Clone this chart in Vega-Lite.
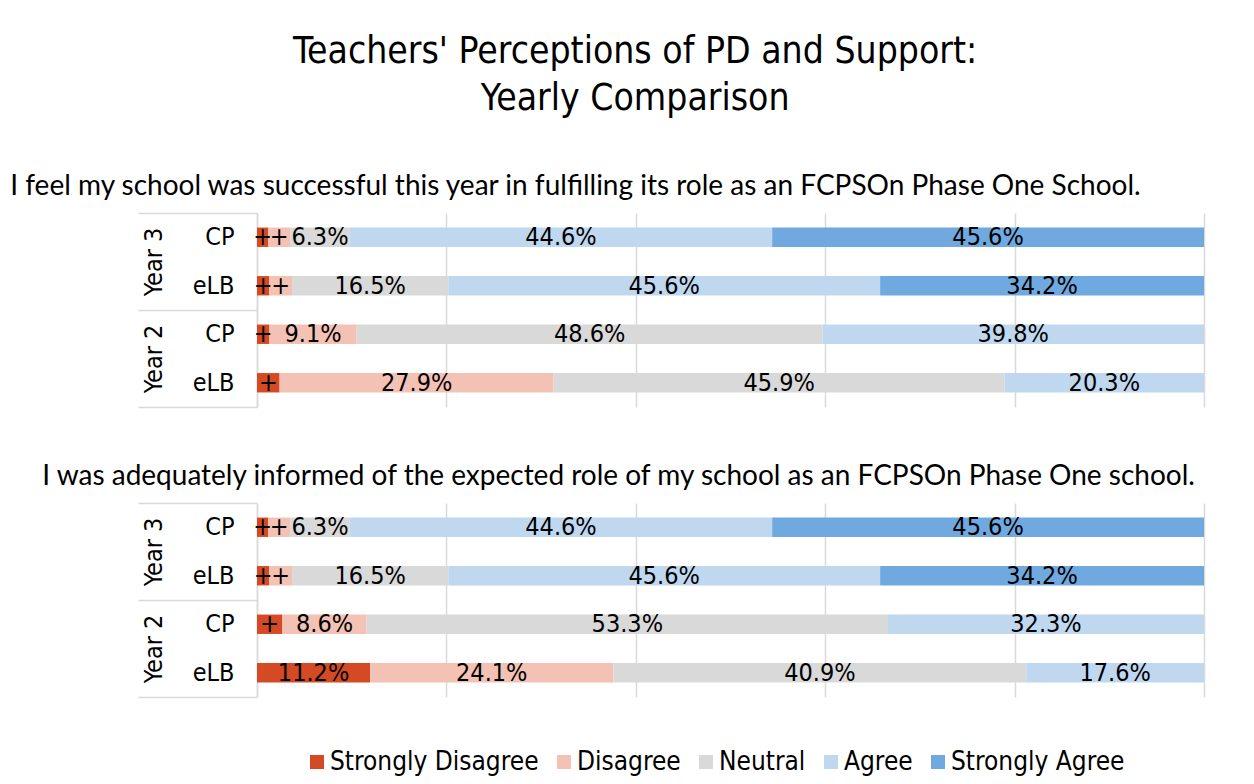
{
  "$schema": "https://vega.github.io/schema/vega-lite/v6.json",
  "background": "white",
  "padding": {"left": 10, "top": 33, "right": 10, "bottom": 5},
  "title": {
    "text": ["Teachers' Perceptions of PD and Support:", "Yearly Comparison"],
    "font": "DejaVu Sans Condensed, DejaVu Sans",
    "fontSize": 37,
    "fontWeight": "normal",
    "color": "black",
    "anchor": "middle",
    "lineHeight": 47,
    "offset": 55,
    "dx": 28
  },
  "datasets": {
    "d": [
      {"panel": 1, "year": "Year 3", "row": "Year 3 CP", "category": "Strongly Disagree", "rank": 1, "value": 1.2, "label": "+"},
      {"panel": 1, "year": "Year 3", "row": "Year 3 CP", "category": "Disagree", "rank": 2, "value": 2.3, "label": "+"},
      {"panel": 1, "year": "Year 3", "row": "Year 3 CP", "category": "Neutral", "rank": 3, "value": 6.3, "label": "6.3%"},
      {"panel": 1, "year": "Year 3", "row": "Year 3 CP", "category": "Agree", "rank": 4, "value": 44.6, "label": "44.6%"},
      {"panel": 1, "year": "Year 3", "row": "Year 3 CP", "category": "Strongly Agree", "rank": 5, "value": 45.6, "label": "45.6%"},
      {"panel": 1, "year": "Year 3", "row": "Year 3 eLB", "category": "Strongly Disagree", "rank": 1, "value": 1.3, "label": "+"},
      {"panel": 1, "year": "Year 3", "row": "Year 3 eLB", "category": "Disagree", "rank": 2, "value": 2.4, "label": "+"},
      {"panel": 1, "year": "Year 3", "row": "Year 3 eLB", "category": "Neutral", "rank": 3, "value": 16.5, "label": "16.5%"},
      {"panel": 1, "year": "Year 3", "row": "Year 3 eLB", "category": "Agree", "rank": 4, "value": 45.6, "label": "45.6%"},
      {"panel": 1, "year": "Year 3", "row": "Year 3 eLB", "category": "Strongly Agree", "rank": 5, "value": 34.2, "label": "34.2%"},
      {"panel": 1, "year": "Year 2", "row": "Year 2 CP", "category": "Strongly Disagree", "rank": 1, "value": 1.3, "label": "+"},
      {"panel": 1, "year": "Year 2", "row": "Year 2 CP", "category": "Disagree", "rank": 2, "value": 9.1, "label": "9.1%"},
      {"panel": 1, "year": "Year 2", "row": "Year 2 CP", "category": "Neutral", "rank": 3, "value": 48.6, "label": "48.6%"},
      {"panel": 1, "year": "Year 2", "row": "Year 2 CP", "category": "Agree", "rank": 4, "value": 39.8, "label": "39.8%"},
      {"panel": 1, "year": "Year 2", "row": "Year 2 eLB", "category": "Strongly Disagree", "rank": 1, "value": 2.3, "label": "+"},
      {"panel": 1, "year": "Year 2", "row": "Year 2 eLB", "category": "Disagree", "rank": 2, "value": 27.9, "label": "27.9%"},
      {"panel": 1, "year": "Year 2", "row": "Year 2 eLB", "category": "Neutral", "rank": 3, "value": 45.9, "label": "45.9%"},
      {"panel": 1, "year": "Year 2", "row": "Year 2 eLB", "category": "Agree", "rank": 4, "value": 20.3, "label": "20.3%"},
      {"panel": 2, "year": "Year 3", "row": "Year 3 CP", "category": "Strongly Disagree", "rank": 1, "value": 1.2, "label": "+"},
      {"panel": 2, "year": "Year 3", "row": "Year 3 CP", "category": "Disagree", "rank": 2, "value": 2.3, "label": "+"},
      {"panel": 2, "year": "Year 3", "row": "Year 3 CP", "category": "Neutral", "rank": 3, "value": 6.3, "label": "6.3%"},
      {"panel": 2, "year": "Year 3", "row": "Year 3 CP", "category": "Agree", "rank": 4, "value": 44.6, "label": "44.6%"},
      {"panel": 2, "year": "Year 3", "row": "Year 3 CP", "category": "Strongly Agree", "rank": 5, "value": 45.6, "label": "45.6%"},
      {"panel": 2, "year": "Year 3", "row": "Year 3 eLB", "category": "Strongly Disagree", "rank": 1, "value": 1.3, "label": "+"},
      {"panel": 2, "year": "Year 3", "row": "Year 3 eLB", "category": "Disagree", "rank": 2, "value": 2.4, "label": "+"},
      {"panel": 2, "year": "Year 3", "row": "Year 3 eLB", "category": "Neutral", "rank": 3, "value": 16.5, "label": "16.5%"},
      {"panel": 2, "year": "Year 3", "row": "Year 3 eLB", "category": "Agree", "rank": 4, "value": 45.6, "label": "45.6%"},
      {"panel": 2, "year": "Year 3", "row": "Year 3 eLB", "category": "Strongly Agree", "rank": 5, "value": 34.2, "label": "34.2%"},
      {"panel": 2, "year": "Year 2", "row": "Year 2 CP", "category": "Strongly Disagree", "rank": 1, "value": 2.6, "label": "+"},
      {"panel": 2, "year": "Year 2", "row": "Year 2 CP", "category": "Disagree", "rank": 2, "value": 8.6, "label": "8.6%"},
      {"panel": 2, "year": "Year 2", "row": "Year 2 CP", "category": "Neutral", "rank": 3, "value": 53.3, "label": "53.3%"},
      {"panel": 2, "year": "Year 2", "row": "Year 2 CP", "category": "Agree", "rank": 4, "value": 32.3, "label": "32.3%"},
      {"panel": 2, "year": "Year 2", "row": "Year 2 eLB", "category": "Strongly Disagree", "rank": 1, "value": 11.2, "label": "11.2%"},
      {"panel": 2, "year": "Year 2", "row": "Year 2 eLB", "category": "Disagree", "rank": 2, "value": 24.1, "label": "24.1%"},
      {"panel": 2, "year": "Year 2", "row": "Year 2 eLB", "category": "Neutral", "rank": 3, "value": 40.9, "label": "40.9%"},
      {"panel": 2, "year": "Year 2", "row": "Year 2 eLB", "category": "Agree", "rank": 4, "value": 17.6, "label": "17.6%"}
    ]
  },
  "spacing": 55,
  "vconcat": [
    {
      "title": {"text": "I feel my school was successful this year in fulfilling its role as an FCPSOn Phase One School.", "anchor": "start", "dx": -127},
      "width": 947,
      "height": 194,
      "data": {"name": "d"},
      "transform": [{"filter": "datum.panel == 1"}],
      "layer": [
        {
          "mark": {"type": "bar"},
          "encoding": {
            "y": {"field": "row", "type": "nominal", "sort": ["Year 3 CP", "Year 3 eLB", "Year 2 CP", "Year 2 eLB"], "scale": {"paddingInner": 0.6, "paddingOuter": 0.3},
              "axis": {"title": null, "labelExpr": "split(datum.label, ' ')[2]", "ticks": false, "domain": true, "domainColor": "#d9d9d9", "domainWidth": 1.5, "labelPadding": 23, "grid": false}},
            "x": {"field": "value", "type": "quantitative", "stack": "normalize", "scale": {"domain": [0, 1]},
              "axis": {"title": null, "values": [0, 0.2, 0.4, 0.6, 0.8, 1], "labels": false, "ticks": false, "domain": false, "grid": true, "gridColor": "#d9d9d9", "gridWidth": 1.5}},
            "color": {"field": "category", "type": "nominal", "sort": ["Strongly Disagree", "Disagree", "Neutral", "Agree", "Strongly Agree"],
              "scale": {"domain": ["Strongly Disagree", "Disagree", "Neutral", "Agree", "Strongly Agree"], "range": ["#D34A24", "#F4C2B4", "#D9D9D9", "#BFD8F0", "#6FA9DF"]},
              "legend": {"title": null}},
            "order": {"field": "rank", "type": "quantitative"}
          }
        },
        {
          "mark": {"type": "text", "fontSize": 25, "font": "DejaVu Sans Condensed, DejaVu Sans", "color": "black", "baseline": "middle", "align": "center"},
          "encoding": {
            "y": {"field": "row", "type": "nominal", "sort": ["Year 3 CP", "Year 3 eLB", "Year 2 CP", "Year 2 eLB"], "scale": {"paddingInner": 0.6, "paddingOuter": 0.3}, "axis": null},
            "x": {"field": "value", "type": "quantitative", "stack": "normalize", "bandPosition": 0.5},
            "detail": {"field": "category", "type": "nominal"},
            "order": {"field": "rank", "type": "quantitative"},
            "text": {"field": "label", "type": "nominal"}
          }
        },
        {
          "mark": {"type": "point", "opacity": 0},
          "encoding": {
            "y": {"field": "year", "type": "nominal", "sort": ["Year 3", "Year 2"], "scale": {"paddingInner": 0, "paddingOuter": 0},
              "axis": {"orient": "left", "title": null, "tickBand": "extent", "tickSize": 119, "tickColor": "#d9d9d9", "tickWidth": 1.5, "domain": false, "labelAngle": 270, "labelAlign": "center", "labelBaseline": "bottom", "labelPadding": -28, "grid": false}}
          }
        }
      ],
      "resolve": {"scale": {"y": "independent"}, "axis": {"y": "independent"}}
    },
    {
      "title": {"text": "I was adequately informed of the expected role of my school as an FCPSOn Phase One school.", "anchor": "start", "dx": -95},
      "width": 947,
      "height": 194,
      "data": {"name": "d"},
      "transform": [{"filter": "datum.panel == 2"}],
      "layer": [
        {
          "mark": {"type": "bar"},
          "encoding": {
            "y": {"field": "row", "type": "nominal", "sort": ["Year 3 CP", "Year 3 eLB", "Year 2 CP", "Year 2 eLB"], "scale": {"paddingInner": 0.6, "paddingOuter": 0.3},
              "axis": {"title": null, "labelExpr": "split(datum.label, ' ')[2]", "ticks": false, "domain": true, "domainColor": "#d9d9d9", "domainWidth": 1.5, "labelPadding": 23, "grid": false}},
            "x": {"field": "value", "type": "quantitative", "stack": "normalize", "scale": {"domain": [0, 1]},
              "axis": {"title": null, "values": [0, 0.2, 0.4, 0.6, 0.8, 1], "labels": false, "ticks": false, "domain": false, "grid": true, "gridColor": "#d9d9d9", "gridWidth": 1.5}},
            "color": {"field": "category", "type": "nominal", "sort": ["Strongly Disagree", "Disagree", "Neutral", "Agree", "Strongly Agree"],
              "scale": {"domain": ["Strongly Disagree", "Disagree", "Neutral", "Agree", "Strongly Agree"], "range": ["#D34A24", "#F4C2B4", "#D9D9D9", "#BFD8F0", "#6FA9DF"]},
              "legend": {"title": null}},
            "order": {"field": "rank", "type": "quantitative"}
          }
        },
        {
          "mark": {"type": "text", "fontSize": 25, "font": "DejaVu Sans Condensed, DejaVu Sans", "color": "black", "baseline": "middle", "align": "center"},
          "encoding": {
            "y": {"field": "row", "type": "nominal", "sort": ["Year 3 CP", "Year 3 eLB", "Year 2 CP", "Year 2 eLB"], "scale": {"paddingInner": 0.6, "paddingOuter": 0.3}, "axis": null},
            "x": {"field": "value", "type": "quantitative", "stack": "normalize", "bandPosition": 0.5},
            "detail": {"field": "category", "type": "nominal"},
            "order": {"field": "rank", "type": "quantitative"},
            "text": {"field": "label", "type": "nominal"}
          }
        },
        {
          "mark": {"type": "point", "opacity": 0},
          "encoding": {
            "y": {"field": "year", "type": "nominal", "sort": ["Year 3", "Year 2"], "scale": {"paddingInner": 0, "paddingOuter": 0},
              "axis": {"orient": "left", "title": null, "tickBand": "extent", "tickSize": 119, "tickColor": "#d9d9d9", "tickWidth": 1.5, "domain": false, "labelAngle": 270, "labelAlign": "center", "labelBaseline": "bottom", "labelPadding": -28, "grid": false}}
          }
        }
      ],
      "resolve": {"scale": {"y": "independent"}, "axis": {"y": "independent"}}
    }
  ],
  "config": {
    "view": {"stroke": null},
    "axis": {"labelFont": "DejaVu Sans Condensed, DejaVu Sans", "labelFontSize": 25, "labelColor": "black"},
    "title": {"font": "Lato", "fontSize": 28, "fontWeight": "normal", "color": "black", "offset": 11, "subtitleFont": "Lato"},
    "legend": {"orient": "none", "legendX": 47, "legendY": 536, "direction": "horizontal", "symbolType": "square", "symbolSize": 196, "symbolStrokeWidth": 0, "symbolOpacity": 1,
      "labelFont": "DejaVu Sans Condensed, DejaVu Sans", "labelFontSize": 26, "labelColor": "black", "labelLimit": 400, "columnPadding": 12, "labelOffset": 0}
  }
}
